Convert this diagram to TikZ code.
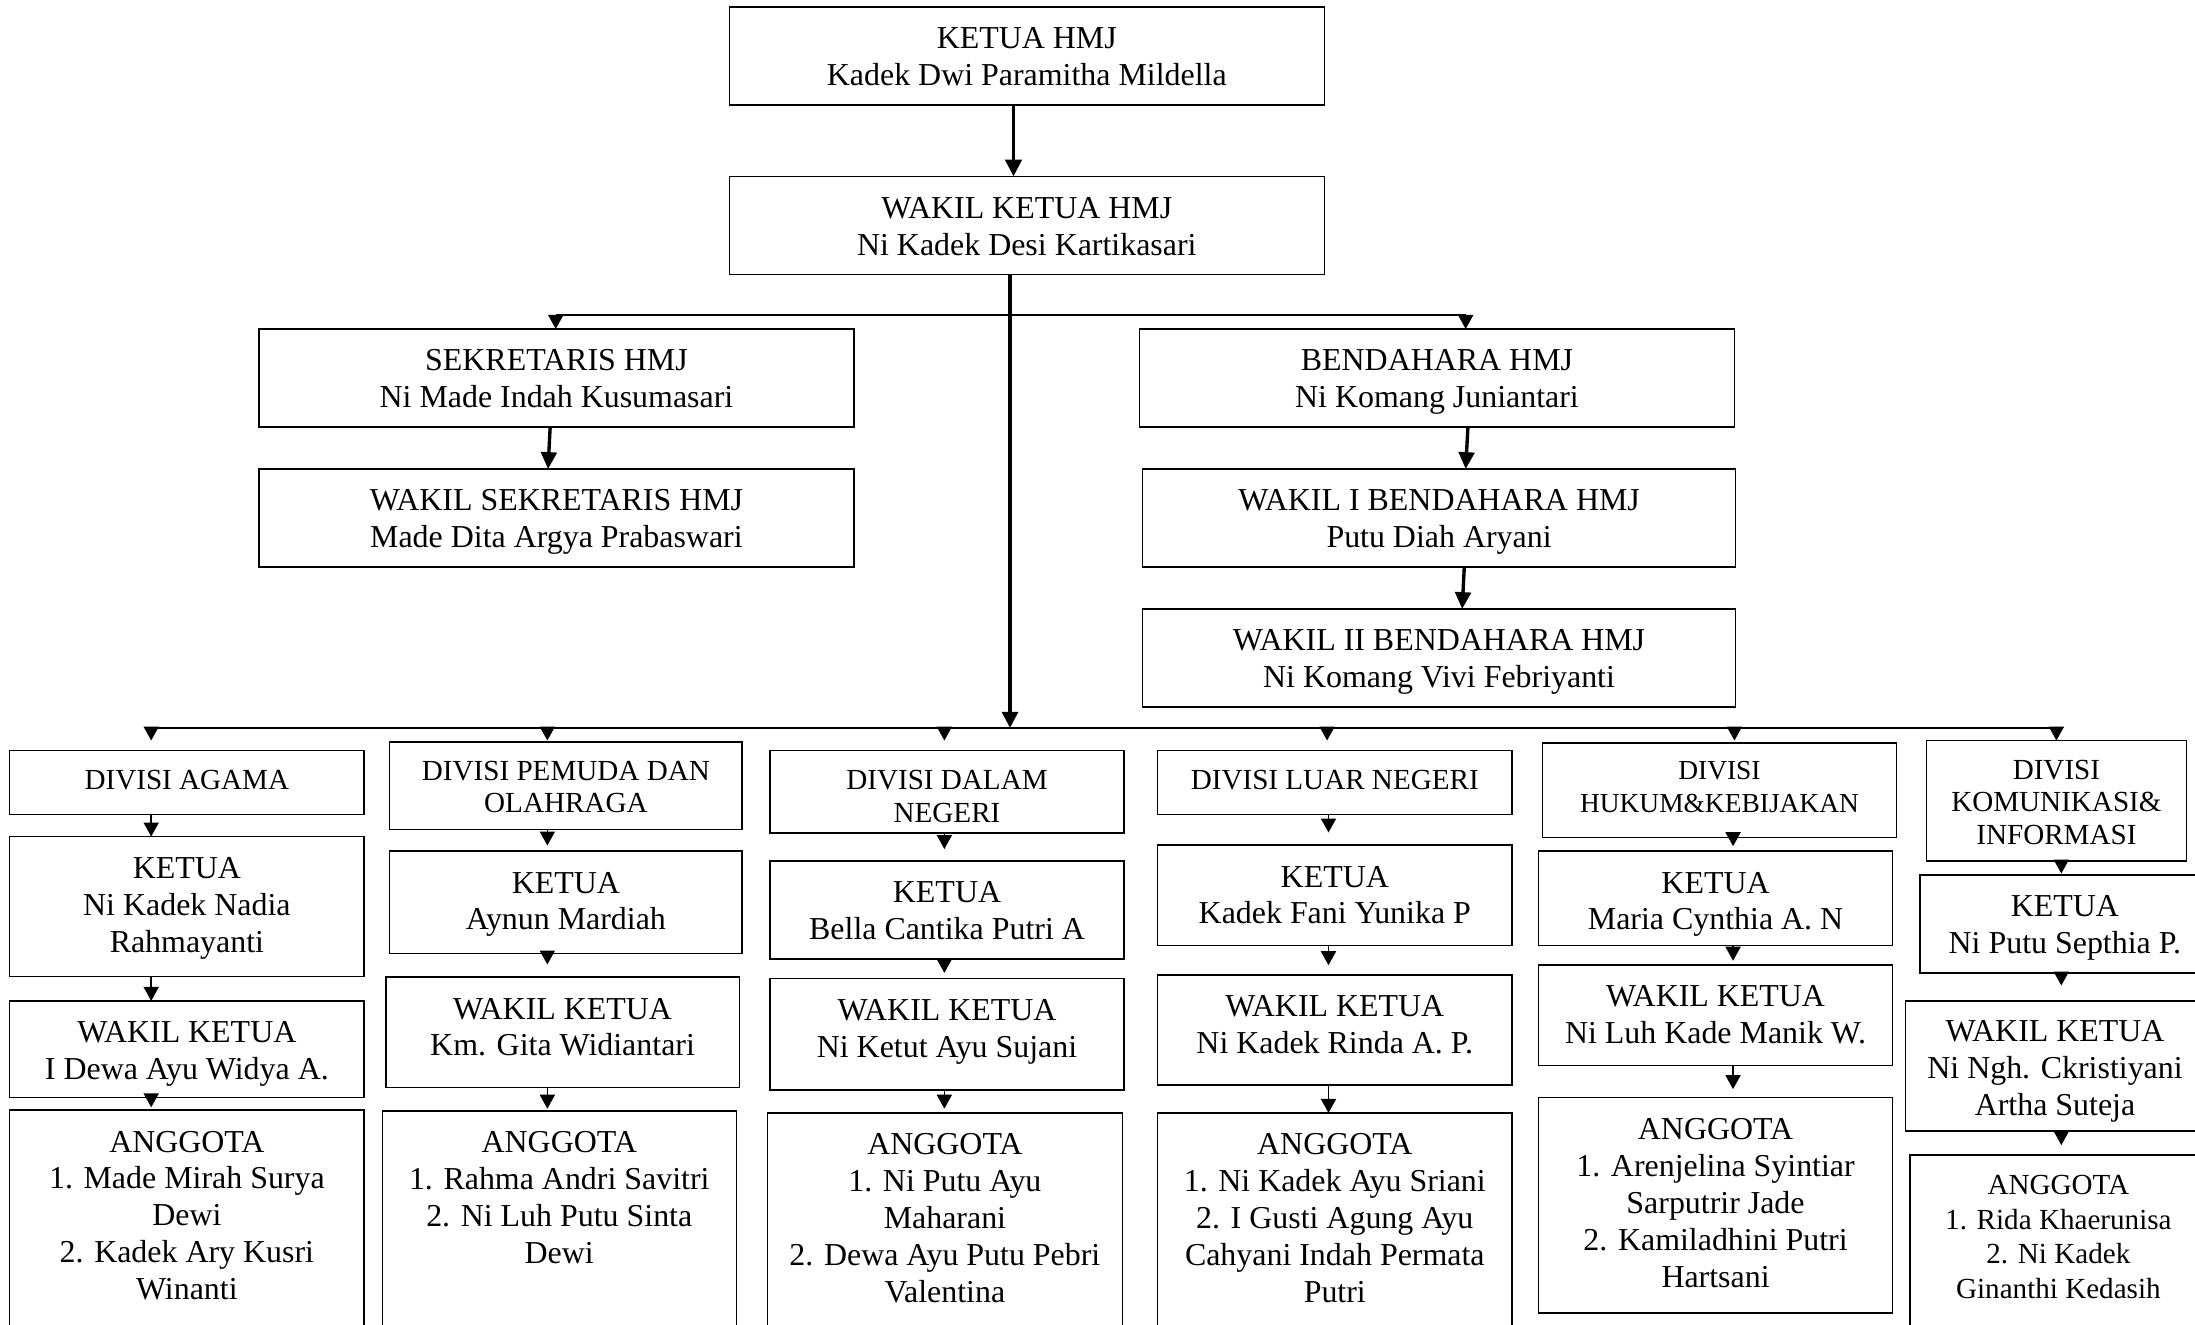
\documentclass[tikz,border=0pt]{standalone}
\usepackage{fontspec}
\setmainfont{Liberation Serif}
\usetikzlibrary{arrows.meta}
\tikzset{
 box/.style={draw=black, line width=0.45pt, rectangle, inner sep=0pt, outer sep=0pt},
 tmain/.style={font=\fontsize{11.4}{13.2}\selectfont, align=center, inner sep=0pt, anchor=north},
 tdiv/.style={font=\fontsize{10.4}{11.7}\selectfont, align=center, inner sep=0pt, anchor=north},
 tdivs/.style={font=\fontsize{9.8}{11.7}\selectfont, align=center, inner sep=0pt, anchor=north},
 tsmall/.style={font=\fontsize{10.4}{12.4}\selectfont, align=center, inner sep=0pt, anchor=north},
 busline/.style={line width=0.55pt},
 arrsm/.style={line width=0.55pt, -{Triangle[width=5.4pt,length=5pt]}},
 arrtr/.style={line width=1.3pt, -{Triangle[width=5.6pt,length=5.7pt]}},
 arrmid/.style={line width=1.2pt, -{Triangle[width=5.6pt,length=6pt]}},
 arrbig/.style={line width=1.4pt, -{Triangle[width=5.8pt,length=6pt]}},
}
% name, x1, x2, y1, y2, text style, text offset (pt), text
\newcommand\bx[8]{%
 \node[box, minimum width={(#3-#2)*0.5pt}, minimum height={(#5-#4)*0.5pt}] (#1) at ({(#2+#3)/2},{(#4+#5)/2}) {};
 \node[#6] (#1t) at ([yshift=-#7pt]#1.north) {\rule{0pt}{9pt}#8};
}
% column arrow: source, target, column coordinate, gap (pt)
\newcommand\ca[4]{\draw[arrsm, shorten >=#4pt] (#1.south -| #3) -- (#2.north -| #3);}
\begin{document}
\begin{tikzpicture}[x=0.5pt,y=-0.5pt]
\useasboundingbox (0,0) rectangle (1568,946);
% top part
\bx{K}{521}{946}{5}{75}{tmain}{5.77}{KETUA HMJ\\Kadek Dwi Paramitha Mildella}
\bx{W}{521}{946}{126}{196}{tmain}{5.77}{WAKIL KETUA HMJ\\Ni Kadek Desi Kartikasari}
\bx{S}{185}{610}{235}{305}{tmain}{5.77}{SEKRETARIS HMJ\\Ni Made Indah Kusumasari}
\bx{WS}{185}{610}{335}{405}{tmain}{5.77}{WAKIL SEKRETARIS HMJ\\Made Dita Argya Prabaswari}
\bx{B}{814}{1239}{235}{305}{tmain}{5.77}{BENDAHARA HMJ\\Ni Komang Juniantari}
\bx{WBa}{816}{1240}{335}{405}{tmain}{5.77}{WAKIL I BENDAHARA HMJ\\Putu Diah Aryani}
\bx{WBb}{816}{1240}{435}{505}{tmain}{5.77}{WAKIL II BENDAHARA HMJ\\Ni Komang Vivi Febriyanti}
% column 1
\bx{D1}{7}{260}{536}{582}{tdiv}{4.7}{DIVISI AGAMA}
\bx{K1}{7}{260}{597.6}{697.8}{tmain}{5.77}{KETUA\\Ni Kadek Nadia\\Rahmayanti}
\bx{W1}{7}{260}{715}{784}{tmain}{5.77}{WAKIL KETUA\\I Dewa Ayu Widya A.}
\bx{A1}{7}{260}{793}{1000}{tmain}{5.77}{ANGGOTA\\1. Made Mirah Surya\\Dewi\\2. Kadek Ary Kusri\\Winanti}
% column 2
\bx{D2}{278.5}{530}{530}{592.4}{tdiv}{4.44}{DIVISI PEMUDA DAN\\OLAHRAGA}
\bx{K2}{278.5}{530}{608}{681}{tmain}{5.77}{KETUA\\Aynun Mardiah}
\bx{W2}{275.7}{528}{698}{777}{tmain}{5.77}{WAKIL KETUA\\Km. Gita Widiantari}
\bx{A2}{273}{526}{793.6}{1000}{tmain}{5.77}{ANGGOTA\\1. Rahma Andri Savitri\\2. Ni Luh Putu Sinta\\Dewi}
% column 3
\bx{D3}{550}{803}{536}{595}{tdiv}{4.7}{DIVISI DALAM\\NEGERI}
\bx{K3}{550}{803}{615}{685}{tmain}{5.77}{KETUA\\Bella Cantika Putri A}
\bx{W3}{550}{803}{699}{778.6}{tmain}{5.77}{WAKIL KETUA\\Ni Ketut Ayu Sujani}
\bx{A3}{548}{802}{795}{1000}{tmain}{5.77}{ANGGOTA\\1. Ni Putu Ayu\\Maharani\\2. Dewa Ayu Putu Pebri\\Valentina}
% column 4
\bx{D4}{827}{1080}{536}{582}{tdiv}{4.7}{DIVISI LUAR NEGERI}
\bx{K4}{827}{1080}{603.7}{675.2}{tmain}{5.77}{KETUA\\Kadek Fani Yunika P}
\bx{W4}{827}{1080}{696.5}{775}{tmain}{5.77}{WAKIL KETUA\\Ni Kadek Rinda A. P.}
\bx{A4}{827}{1080}{795}{1000}{tmain}{5.77}{ANGGOTA\\1. Ni Kadek Ayu Sriani\\2. I Gusti Agung Ayu\\Cahyani Indah Permata\\Putri}
% column 5
\bx{D5}{1101.8}{1354.8}{530.8}{598.2}{tdivs}{3.85}{DIVISI\\HUKUM\&KEBIJAKAN}
\bx{K5}{1099}{1352}{608}{675.2}{tmain}{5.77}{KETUA\\Maria Cynthia A. N}
\bx{W5}{1099}{1352}{689.3}{761}{tmain}{5.77}{WAKIL KETUA\\Ni Luh Kade Manik W.}
\bx{A5}{1099}{1352}{784}{938}{tmain}{5.77}{ANGGOTA\\1. Arenjelina Syintiar\\Sarputrir Jade\\2. Kamiladhini Putri\\Hartsani}
% column 6
\bx{D6}{1376}{1562}{529}{615}{tdiv}{4.55}{DIVISI\\KOMUNIKASI\&\\INFORMASI}
\bx{K6}{1371.6}{1578.4}{625}{695}{tmain}{5.77}{KETUA\\Ni Putu Septhia P.}
\bx{W6}{1361}{1575}{715}{808}{tmain}{5.17}{WAKIL KETUA\\Ni Ngh. Ckristiyani\\Artha Suteja}
\bx{A6}{1364.3}{1576.5}{825}{1000}{tsmall}{4.94}{ANGGOTA\\1. Rida Khaerunisa\\2. Ni Kadek\\Ginanthi Kedasih}

% top connectors
\draw[arrbig] ([xshift=-4.75pt]K.south) -- ([xshift=-4.75pt]W.north);
\coordinate (bl) at (397,225);
\coordinate (br) at (1047,225);
\draw[busline] (bl) -- (br);
\draw[arrsm] (bl) -- (bl |- S.north);
\draw[arrsm] (br) -- (br |- B.north);
\draw[arrmid] ([xshift=-2.25pt]S.south) -- ([xshift=-3pt]WS.north);
\draw[arrmid] ([xshift=11.05pt]B.south) -- ([xshift=9.5pt]WBa.north);
\draw[arrmid] ([xshift=9pt]WBa.south) -- ([xshift=8.25pt]WBb.north);

% bus to divisions
\coordinate (c1) at (108,520);
\coordinate (c2) at (391,520);
\coordinate (c3) at (674.6,520);
\coordinate (c4) at (948,520);
\coordinate (c5) at (1239,520);
\coordinate (c6) at (1469,520);
\coordinate (ct) at (721.5,520);
\draw[busline] (c1) -- (c6);
\draw[arrtr] ([xshift=-6pt]W.south) -- (ct);
\foreach \i in {1,...,6} {\draw[arrsm] (c\i) -- ++(0,9);}

% column arrows
\coordinate (cc1) at (108,0);
\coordinate (cc2) at (391,0);
\coordinate (cc3) at (674.6,0);
\coordinate (cc4) at (949,0);
\coordinate (cc5) at (1238,0);
\coordinate (cc6) at (1472.5,0);
\ca{D1}{K1}{cc1}{0}
\ca{K1}{W1}{cc1}{0}
\ca{W1}{A1}{cc1}{1}
\ca{D2}{K2}{cc2}{2}
\ca{K2}{W2}{cc2}{4.5}
\ca{W2}{A2}{cc2}{0.8}
\ca{D3}{K3}{cc3}{4.25}
\ca{K3}{W3}{cc3}{2}
\ca{W3}{A3}{cc3}{1.5}
\ca{D4}{K4}{cc4}{4.5}
\ca{K4}{W4}{cc4}{3.5}
\ca{W4}{A4}{cc4}{0}
\ca{D5}{K5}{cc5}{1.75}
\ca{K5}{W5}{cc5}{1.5}
\ca{W5}{A5}{cc5}{3}
\ca{D6}{K6}{cc6}{0.5}
\ca{K6}{W6}{cc6}{5.5}
\ca{W6}{A6}{cc6}{3.5}
\end{tikzpicture}
\end{document}
